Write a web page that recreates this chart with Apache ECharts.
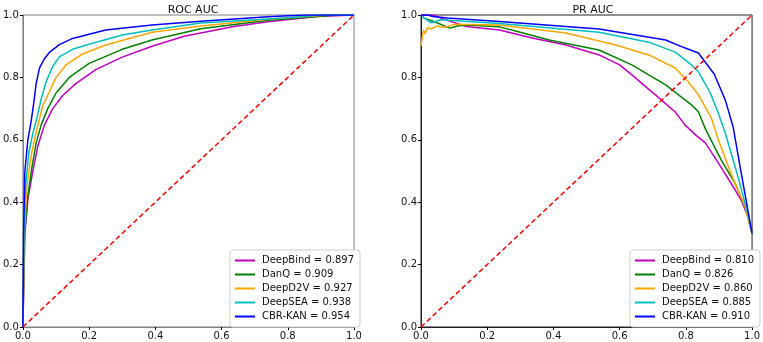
<!DOCTYPE html>
<html>
<head>
<meta charset="utf-8">
<script src="https://cdn.jsdelivr.net/npm/echarts@6/dist/echarts.min.js"></script>
<style>
  html, body { margin: 0; padding: 0; background: #fff; }
  #chart { width: 763px; height: 342px; }
</style>
</head>
<body>
<div id="chart"></div>
<script>
// model names + AUC scores
const models = ['DeepBind', 'DanQ', 'DeepD2V', 'DeepSEA', 'CBR-KAN']
const rocScores = ['0.897', '0.909', '0.927', '0.938', '0.954']
const prScores = ['0.810', '0.826', '0.860', '0.885', '0.910']
const colors = ['#bf00bf', '#008000', '#ffa500', '#00bfbf', '#0000ff']
const tickLabels = ['0.0', '0.2', '0.4', '0.6', '0.8', '1.0']

// ROC curves [fpr, tpr]
const rocDeepBind = [[0,0],[0.006,0.3],[0.015,0.41],[0.03,0.5],[0.045,0.58],[0.065,0.647],[0.09,0.7],[0.12,0.742],[0.16,0.78],[0.22,0.825],[0.3,0.865],[0.39,0.9],[0.487,0.932],[0.637,0.963],[0.74,0.978],[0.89,0.995],[1,1]]
const rocDanQ = [[0,0],[0.005,0.3],[0.015,0.42],[0.027,0.51],[0.04,0.59],[0.055,0.647],[0.075,0.7],[0.1,0.75],[0.14,0.8],[0.2,0.845],[0.3,0.89],[0.39,0.92],[0.537,0.956],[0.74,0.983],[0.95,1],[1,1]]
const rocDeepD2V = [[0,0],[0.004,0.3],[0.012,0.45],[0.025,0.55],[0.035,0.6],[0.045,0.647],[0.06,0.71],[0.08,0.754],[0.1,0.8],[0.13,0.84],[0.18,0.875],[0.25,0.904],[0.39,0.945],[0.537,0.965],[0.74,0.986],[0.92,1],[1,1]]
const rocDeepSEA = [[0,0],[0.003,0.3],[0.008,0.45],[0.018,0.56],[0.03,0.62],[0.04,0.66],[0.055,0.73],[0.07,0.786],[0.09,0.835],[0.11,0.866],[0.15,0.89],[0.2,0.906],[0.3,0.936],[0.39,0.952],[0.537,0.974],[0.79,0.99],[0.9,1],[1,1]]
const rocCBRKAN = [[0,0],[0.002,0.3],[0.006,0.5],[0.015,0.6],[0.025,0.66],[0.033,0.72],[0.04,0.78],[0.05,0.83],[0.065,0.86],[0.08,0.88],[0.11,0.905],[0.15,0.925],[0.25,0.952],[0.39,0.968],[0.537,0.98],[0.74,0.994],[0.85,1],[1,1]]

// PR curves [recall, precision]
const prDeepBind = [[0,1],[0.036,1],[0.06,0.99],[0.137,0.963],[0.237,0.952],[0.336,0.926],[0.438,0.904],[0.538,0.872],[0.6,0.84],[0.637,0.808],[0.708,0.744],[0.768,0.689],[0.798,0.647],[0.83,0.615],[0.859,0.59],[0.898,0.526],[0.937,0.46],[0.967,0.407],[0.988,0.353],[1,0.3]]
const prDanQ = [[0,1],[0.01,0.99],[0.036,0.98],[0.06,0.97],[0.087,0.958],[0.11,0.965],[0.137,0.968],[0.237,0.962],[0.3,0.945],[0.387,0.92],[0.538,0.888],[0.637,0.84],[0.739,0.776],[0.817,0.712],[0.838,0.69],[0.859,0.635],[0.907,0.535],[0.949,0.46],[0.979,0.385],[1,0.3]]
const prDeepD2V = [[0,0.9],[0.004,0.93],[0.008,0.95],[0.012,0.94],[0.02,0.96],[0.03,0.955],[0.05,0.965],[0.07,0.96],[0.1,0.97],[0.237,0.968],[0.438,0.942],[0.588,0.904],[0.688,0.872],[0.768,0.83],[0.808,0.785],[0.838,0.744],[0.877,0.67],[0.898,0.6],[0.937,0.49],[0.979,0.385],[1,0.3]]
const prDeepSEA = [[0,1],[0.01,0.99],[0.03,0.975],[0.06,0.985],[0.237,0.973],[0.538,0.945],[0.688,0.913],[0.768,0.881],[0.817,0.84],[0.838,0.818],[0.874,0.75],[0.898,0.686],[0.919,0.622],[0.958,0.48],[0.988,0.36],[1,0.3]]
const prCBRKAN = [[0,1],[0.02,1],[0.036,0.995],[0.08,0.99],[0.237,0.979],[0.538,0.955],[0.739,0.92],[0.798,0.894],[0.838,0.878],[0.886,0.81],[0.919,0.728],[0.943,0.641],[0.964,0.513],[0.982,0.407],[0.995,0.33],[1,0.3]]

const diagonal = [[0,0],[1,1]]

const rocData = [rocDeepBind, rocDanQ, rocDeepD2V, rocDeepSEA, rocCBRKAN]
const prData = [prDeepBind, prDanQ, prDeepD2V, prDeepSEA, prCBRKAN]

const font = 'DejaVu Sans'

const chart = echarts.init(document.getElementById('chart'))

const makeAxis = (idx, frameColor) => ({
  type: 'value',
  gridIndex: idx,
  min: 0,
  max: 1,
  interval: 0.2,
  axisLine: { show: true, lineStyle: { color: frameColor, width: 1 } },
  axisTick: { show: true, inside: false, length: 3, lineStyle: { color: '#000' } },
  axisLabel: {
    fontFamily: font,
    fontSize: 10,
    color: '#111',
    margin: 4,
    formatter: (v) => tickLabels[Math.round(v * 5)]
  },
  splitLine: { show: false }
})

const lineSeries = (name, data, color, idx) => ({
  name,
  type: 'line',
  xAxisIndex: idx,
  yAxisIndex: idx,
  data,
  showSymbol: false,
  symbol: 'none',
  lineStyle: { color, width: 1.5, join: 'round' },
  itemStyle: { color },
  z: 3,
  animation: false
})

const series = []
rocData.forEach((d, i) => series.push(lineSeries(models[i] + ' = ' + rocScores[i], d, colors[i], 0)))
prData.forEach((d, i) => series.push(lineSeries(models[i] + ' = ' + prScores[i], d, colors[i], 1)))
;[0, 1].forEach((idx) => {
  series.push({
    type: 'line',
    xAxisIndex: idx,
    yAxisIndex: idx,
    data: diagonal,
    symbol: 'none',
    lineStyle: { color: '#ff0000', width: 1.5, type: [5, 3] },
    z: 4,
    animation: false
  })
})

const legendBase = {
  orient: 'vertical',
  icon: 'rect',
  itemWidth: 20,
  itemHeight: 2,
  itemGap: 3,
  padding: [5, 6, 5, 5],
  backgroundColor: '#fff',
  borderColor: '#ccc',
  borderWidth: 1,
  borderRadius: 3,
  selectedMode: false,
  textStyle: { fontFamily: font, fontSize: 10, color: '#111', lineHeight: 11, padding: [0, 0, 0, 2] }
}

const option = {
  animation: false,
  title: [
    { text: 'ROC AUC', left: 188, top: 0, textAlign: 'center', textStyle: { fontFamily: font, fontSize: 11, fontWeight: 'normal', color: '#111' } },
    { text: 'PR AUC', left: 588, top: 0, textAlign: 'center', textStyle: { fontFamily: font, fontSize: 11, fontWeight: 'normal', color: '#111' } }
  ],
  grid: [
    { left: 21, right: 409, top: 15, bottom: 15, show: true, borderColor: '#808080', borderWidth: 1, backgroundColor: 'transparent' },
    { left: 421, right: 9, top: 15, bottom: 15, show: true, borderColor: '#222', borderWidth: 1, backgroundColor: 'transparent' }
  ],
  xAxis: [makeAxis(0, '#808080'), makeAxis(1, '#222')],
  yAxis: [makeAxis(0, '#808080'), makeAxis(1, '#222')],
  legend: [
    Object.assign({}, legendBase, { left: 230, top: 250, data: models.map((m, i) => m + ' = ' + rocScores[i]) }),
    Object.assign({}, legendBase, { left: 630, top: 250, data: models.map((m, i) => m + ' = ' + prScores[i]) })
  ],
  series
}

chart.setOption(option)
</script>
</body>
</html>
